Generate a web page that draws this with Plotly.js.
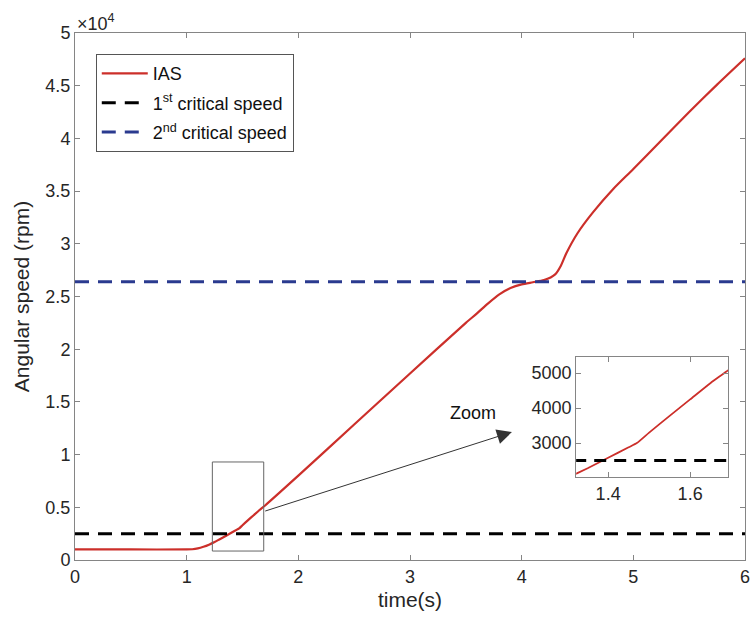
<!DOCTYPE html>
<html><head><meta charset="utf-8">
<script src="https://cdn.plot.ly/plotly-3.0.1.min.js"></script>
<style>html,body{margin:0;padding:0;background:#fff}#chart{width:751px;height:630px}</style>
</head><body><div id="chart"></div>
<script>
// IAS time series (s, rpm)
const iasTime = [0, 0.5, 1.0, 1.05, 1.1, 1.15, 1.2, 1.25, 1.3, 1.35, 1.4, 1.45, 1.47, 1.5, 1.55, 1.6, 1.65, 1.7,
  2.0, 2.5, 3.0, 3.5, 3.6, 3.7, 3.8, 3.9, 4.0, 4.1, 4.2, 4.3, 4.35, 4.4, 4.5, 4.64, 4.82, 5.0, 5.25, 5.5, 5.75, 6.0];
const iasRpm = [1000, 1000, 1000, 1020, 1100, 1250, 1450, 1700, 2000, 2280, 2580, 2880, 3000, 3300, 3780, 4250, 4720, 5150,
  8000, 12850, 17700, 22500, 23400, 24350, 25200, 25800, 26150, 26350, 26550, 27100, 27900, 29100, 31000, 33000, 35200, 37100, 39800, 42500, 45100, 47600];
const critTime = [0, 6];
const crit1 = [2500, 2500];
const crit2 = [26400, 26400];
const yTickVals = [0, 5000, 10000, 15000, 20000, 25000, 30000, 35000, 40000, 45000, 50000];
const yTickText = ["0", "0.5", "1", "1.5", "2", "2.5", "3", "3.5", "4", "4.5", "5"];
const xTickVals = [0, 1, 2, 3, 4, 5, 6];
const insetXTicks = [1.4, 1.6];
const insetYTicks = [3000, 4000, 5000];

const red = '#cc2f2a', navy = '#2a3a8f';
const font = 'Liberation Sans, Arial, sans-serif';
const traces = [
  {x: iasTime, y: iasRpm, type: 'scatter', mode: 'lines', name: 'IAS', legendgroup: 'a',
    line: {color: red, width: 2.2, shape: 'spline', smoothing: 0.7}},
  {x: critTime, y: crit1, type: 'scatter', mode: 'lines', name: '1<sup>st</sup> critical speed', legendgroup: 'b',
    line: {color: '#000', width: 3, dash: '14px,9px'}},
  {x: critTime, y: crit2, type: 'scatter', mode: 'lines', name: '2<sup>nd</sup> critical speed', legendgroup: 'c',
    line: {color: navy, width: 3, dash: '14px,9px'}},
  {x: iasTime, y: iasRpm, type: 'scatter', mode: 'lines', xaxis: 'x2', yaxis: 'y2', showlegend: false,
    line: {color: red, width: 1.8, shape: 'spline', smoothing: 0.5}},
  {x: critTime, y: crit1, type: 'scatter', mode: 'lines', xaxis: 'x2', yaxis: 'y2', showlegend: false,
    line: {color: '#000', width: 3, dash: '12px,8px'}}
];
const axBase = {showgrid: false, zeroline: false, showline: true, linecolor: '#858585', linewidth: 1,
  mirror: 'ticks', ticks: 'inside', ticklen: 5, tickcolor: '#858585', tickfont: {family: font, size: 18, color: '#262626'}};
const layout = {
  width: 751, height: 630, paper_bgcolor: '#fff', plot_bgcolor: '#fff',
  margin: {l: 75, r: 6, t: 33, b: 70},
  showlegend: true,
  legend: {x: 0.031, y: 0.96, xanchor: 'left', yanchor: 'top', bordercolor: '#555', borderwidth: 1,
    bgcolor: '#fff', font: {family: font, size: 18, color: '#111'}, tracegroupgap: 3, itemwidth: 46},
  xaxis: Object.assign({}, axBase, {range: [0, 6], tickvals: xTickVals, domain: [0, 1],
    title: {text: 'time(s)', font: {family: font, size: 21, color: '#262626'}, standoff: 6}}),
  yaxis: Object.assign({}, axBase, {range: [0, 50000], tickvals: yTickVals, ticktext: yTickText,
    title: {text: 'Angular speed (rpm)', font: {family: font, size: 21, color: '#262626'}, standoff: 10}}),
  xaxis2: Object.assign({}, axBase, {anchor: 'y2', domain: [0.748, 0.975], range: [1.322, 1.693], tickvals: insetXTicks, ticktext: ['1.4', '1.6']}),
  yaxis2: Object.assign({}, axBase, {anchor: 'x2', domain: [0.1575, 0.385], range: [2030, 5460], tickvals: insetYTicks}),
  shapes: [
    {type: 'rect', xref: 'x', yref: 'y', x0: 1.23, x1: 1.69, y0: 850, y1: 9300, line: {color: '#666', width: 1}}
  ],
  annotations: [
    {xref: 'paper', yref: 'paper', x: 0, y: 1, xanchor: 'left', yanchor: 'bottom', yshift: -3, showarrow: false,
      text: '×10<sup>4</sup>', font: {family: font, size: 18, color: '#262626'}},
    {xref: 'x', yref: 'y', x: 3.913, y: 12144, axref: 'x', ayref: 'y', ax: 1.69, ay: 4600, text: '',
      showarrow: true, arrowhead: 2, arrowsize: 3, arrowwidth: 1, arrowcolor: '#333'},
    {xref: 'x', yref: 'y', x: 3.565, y: 13950, showarrow: false, text: 'Zoom',
      font: {family: font, size: 18, color: '#111'}}
  ]
};
Plotly.newPlot('chart', traces, layout, {staticPlot: true, displayModeBar: false});
</script></body></html>
